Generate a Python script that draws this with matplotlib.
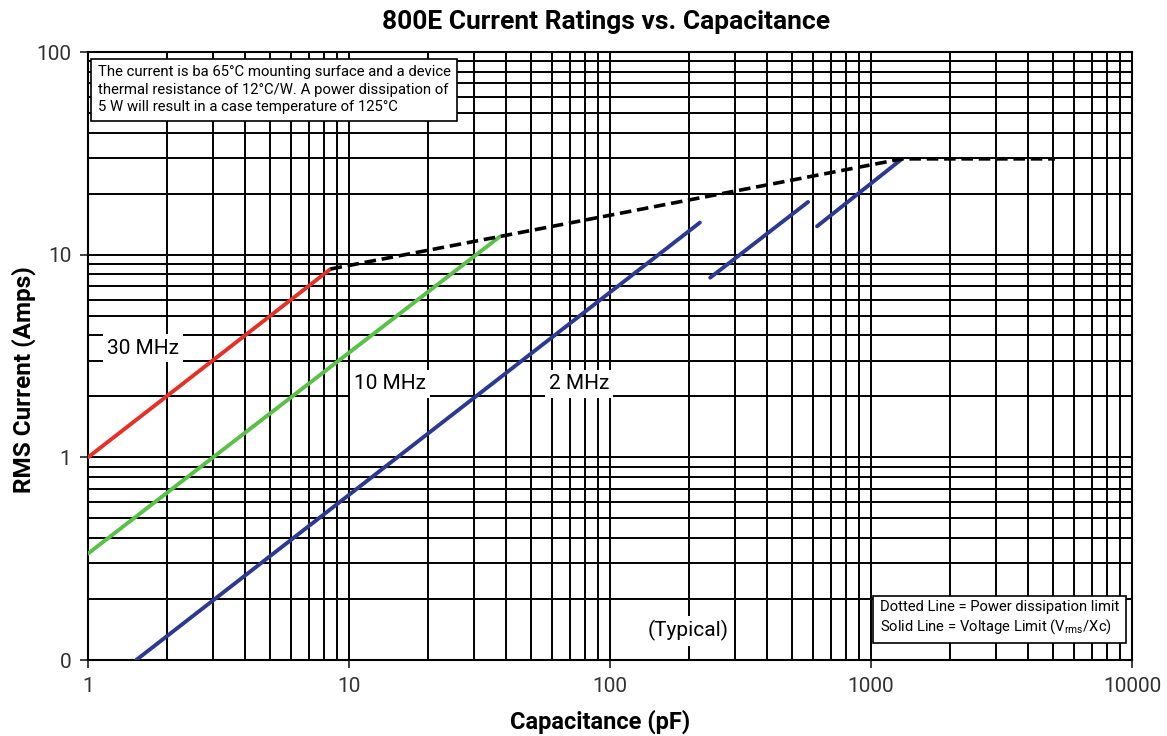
import matplotlib
matplotlib.use("Agg")
import matplotlib.pyplot as plt
from matplotlib.ticker import FixedLocator, NullFormatter

plt.rcParams['font.family'] = ['Roboto', 'DejaVu Sans']

# Данные (ёмкость в pF, ток в A)
red_c = [1, 8.5]
red_i = [1, 8.5]
green_c = [1, 37.9]
green_i = [0.335, 12.3]
blue_c = [1.53, 221]
blue_i = [0.1, 14.4]
blue2_c = [242, 574]
blue2_i = [7.7, 18.2]
blue3_c = [621, 1315]
blue3_i = [13.8, 29.7]
limit_c = [8.5, 37.9, 1315, 5070]
limit_i = [8.5, 12.3, 29.7, 29.7]

x_ticks = [1, 10, 100, 1000, 10000]
x_labels = ['1', '10', '100', '1000', '10000']
y_ticks = [0.1, 1, 10, 100]
y_labels = ['0', '1', '10', '100']

red = '#e53027'
green = '#58c146'
blue = '#2b3990'

fig = plt.figure(figsize=(11.67, 7.36), dpi=100)
ax = fig.add_axes([88 / 1167, 1 - 660 / 736, 1044 / 1167, 608 / 736])
ax.set_xscale('log')
ax.set_yscale('log')
ax.set_xlim(1, 10000)
ax.set_ylim(0.1, 100)

ax.grid(which='both', color='black', lw=1.4, zorder=1)
ax.xaxis.set_major_locator(FixedLocator(x_ticks))
ax.set_xticklabels(x_labels)
ax.yaxis.set_major_locator(FixedLocator(y_ticks))
ax.set_yticklabels(y_labels)
ax.xaxis.set_minor_formatter(NullFormatter())
ax.yaxis.set_minor_formatter(NullFormatter())
ax.tick_params(which='major', direction='out', length=6, width=1.3,
               labelsize=15, colors='#333333', pad=6)
ax.tick_params(which='minor', length=0)
for s in ax.spines.values():
    s.set_linewidth(1.5)

ax.plot(red_c, red_i, color=red, lw=2.8, zorder=3, solid_capstyle='round')
ax.plot(green_c, green_i, color=green, lw=2.8, zorder=3, solid_capstyle='round')
for c, i in [(blue_c, blue_i), (blue2_c, blue2_i), (blue3_c, blue3_i)]:
    ax.plot(c, i, color=blue, lw=2.8, zorder=3, solid_capstyle='round')
ax.plot(limit_c, limit_i, color='black', lw=2.6, ls=(0, (3.2, 1.6)), zorder=4)

lbl_box = dict(facecolor='white', edgecolor='none', pad=3)
ax.text(0.0527, 0.513, '30 MHz', transform=ax.transAxes, fontsize=15,
        ha='center', va='center', bbox=lbl_box, zorder=5)
ax.text(0.2893, 0.454, '10 MHz', transform=ax.transAxes, fontsize=15,
        ha='center', va='center', bbox=lbl_box, zorder=5)
ax.text(0.4703, 0.454, '2 MHz', transform=ax.transAxes, fontsize=15,
        ha='center', va='center', bbox=lbl_box, zorder=5)
ax.text(0.5747, 0.048, '(Typical)', transform=ax.transAxes, fontsize=15,
        ha='center', va='center', bbox=lbl_box, zorder=5)

note_box = dict(facecolor='white', edgecolor='black', lw=1.2, boxstyle='square,pad=0.45')
ax.text(0.0095, 0.978,
        'The current is ba 65°C mounting surface and a device\n'
        'thermal resistance of 12°C/W. A power dissipation of\n'
        '5 W will result in a case temperature of 125°C',
        transform=ax.transAxes, fontsize=10.7, ha='left', va='top',
        linespacing=1.3, bbox=note_box, zorder=6)
ax.text(0.7586, 0.069,
        'Dotted Line = Power dissipation limit\n'
        'Solid Line = Voltage Limit (V$_{\\mathregular{rms}}$/Xc)',
        transform=ax.transAxes, fontsize=10.6, ha='left', va='center',
        linespacing=1.25, bbox=note_box, zorder=6)

fig.text(606 / 1167, 1 - 22 / 736, '800E Current Ratings vs. Capacitance',
         fontsize=19, fontweight='bold', ha='center', va='center')
fig.text(600 / 1167, 1 - 722 / 736, 'Capacitance (pF)', fontsize=17,
         fontweight='bold', ha='center', va='center')
fig.text(24 / 1167, 1 - 380 / 736, 'RMS Current (Amps)', fontsize=17.5,
         fontweight='bold', ha='center', va='center', rotation=90)

fig.savefig('out.png', dpi=100)
